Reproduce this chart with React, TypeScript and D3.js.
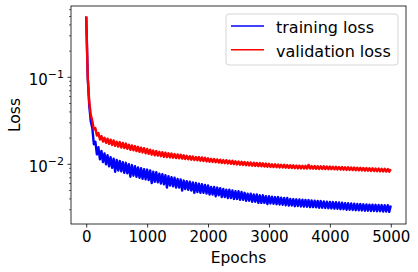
import React, { useEffect, useRef } from 'react';
import * as d3 from 'd3';

// sampled every 25 epochs, 0..5000
const STEP = 25;

const trainingLoss = [
  0.50, 0.098, 0.047, 0.031, 0.0262, 0.0170, 0.0182, 0.0130, 0.0157, 0.0114,
  0.0142, 0.0106, 0.0133, 0.0100, 0.0127, 0.0095, 0.0121, 0.0091, 0.0116, 0.0082,
  0.0112, 0.0085, 0.0109, 0.0083, 0.0106, 0.0080, 0.0104, 0.0079, 0.0100, 0.0072,
  0.0098, 0.0074, 0.0095, 0.0072, 0.0092, 0.0070, 0.0090, 0.0068, 0.0088, 0.0067,
  0.0087, 0.0066, 0.0085, 0.0061, 0.0082, 0.0063, 0.0081, 0.0062, 0.0078, 0.0060,
  0.0077, 0.0059, 0.0075, 0.0054, 0.0073, 0.0057, 0.0071, 0.0056, 0.0070, 0.0054,
  0.0068, 0.0054, 0.0067, 0.0050, 0.0065, 0.0052, 0.0064, 0.0051, 0.0063, 0.0050,
  0.0062, 0.0047, 0.0061, 0.0048, 0.0060, 0.0047, 0.0059, 0.0047, 0.0058, 0.0046,
  0.0057, 0.0045, 0.0055, 0.0045, 0.0055, 0.0043, 0.0054, 0.0044, 0.0053, 0.0042,
  0.0052, 0.0042, 0.0051, 0.0041, 0.0051, 0.0041, 0.0050, 0.0040, 0.0049, 0.0040,
  0.0049, 0.0039, 0.0048, 0.0039, 0.0047, 0.0038, 0.0046, 0.0038, 0.0046, 0.0037,
  0.0045, 0.0037, 0.0045, 0.0036, 0.0044, 0.0036, 0.0044, 0.0036, 0.0043, 0.0035,
  0.0043, 0.00355, 0.00425, 0.00352, 0.0042, 0.00348, 0.0042, 0.00345, 0.00413, 0.00342,
  0.0041, 0.00338, 0.0041, 0.00335, 0.0040, 0.00336, 0.00398, 0.0033, 0.00396, 0.00332,
  0.00394, 0.00328, 0.00392, 0.00326, 0.0039, 0.00325, 0.00388, 0.00322, 0.00384, 0.00322,
  0.00382, 0.0032, 0.0038, 0.00316, 0.00378, 0.00317, 0.00374, 0.00314, 0.00372, 0.00313,
  0.0037, 0.00311, 0.00368, 0.00309, 0.00366, 0.00308, 0.00364, 0.00305, 0.00362, 0.00305,
  0.00358, 0.0030, 0.00357, 0.00301, 0.00355, 0.00299, 0.00352, 0.00297, 0.0035, 0.00296,
  0.00349, 0.00295, 0.00347, 0.00292, 0.00346, 0.00293, 0.00344, 0.0029, 0.00344, 0.00291,
  0.00342, 0.00288, 0.00341, 0.00289, 0.0034, 0.00286, 0.00339, 0.00287, 0.00338, 0.00284,
  0.00336,
];

const validationLoss = [
  0.50, 0.100, 0.052, 0.037, 0.0315, 0.0252, 0.0261, 0.0214, 0.0229, 0.0193,
  0.0211, 0.0183, 0.0202, 0.0177, 0.0197, 0.0172, 0.0192, 0.0167, 0.0188, 0.0163,
  0.0182, 0.0160, 0.0180, 0.0156, 0.0176, 0.0154, 0.0173, 0.0151, 0.0168, 0.0147,
  0.0165, 0.0145, 0.0162, 0.0142, 0.0159, 0.0139, 0.0155, 0.0137, 0.0153, 0.0134,
  0.0150, 0.0132, 0.0147, 0.0129, 0.0144, 0.0127, 0.0142, 0.0126, 0.0139, 0.0124,
  0.0138, 0.0122, 0.0136, 0.0121, 0.0134, 0.0120, 0.0133, 0.0119, 0.0131, 0.0118,
  0.0130, 0.0117, 0.0129, 0.0116, 0.0127, 0.0115, 0.0125, 0.0114, 0.0124, 0.0113,
  0.0123, 0.0112, 0.0121, 0.0111, 0.0121, 0.0110, 0.0120, 0.0109, 0.0119, 0.0108,
  0.0117, 0.01072, 0.01157, 0.01063, 0.01148, 0.01055, 0.01139, 0.01046, 0.0113, 0.01038,
  0.0112, 0.01029, 0.01115, 0.01021, 0.01102, 0.01012, 0.01095, 0.01004, 0.01085, 0.00995,
  0.01077, 0.00988, 0.01068, 0.00982, 0.01063, 0.00976, 0.01056, 0.0097, 0.0105, 0.00965,
  0.01044, 0.00959, 0.01038, 0.00953, 0.01032, 0.00947, 0.01025, 0.00941, 0.01019, 0.00936,
  0.01013, 0.00933, 0.01002, 0.00929, 0.00998, 0.00926, 0.00994, 0.00922, 0.0099, 0.00918,
  0.00986, 0.00914, 0.00981, 0.0091, 0.00977, 0.00906, 0.00973, 0.00903, 0.00969, 0.00899,
  0.00965, 0.00898, 0.00962, 0.00896, 0.0096, 0.00894, 0.00985, 0.00892, 0.00955, 0.0089,
  0.00953, 0.00888, 0.00951, 0.00886, 0.00949, 0.00884, 0.00947, 0.00882, 0.00945, 0.0088,
  0.00943, 0.00878, 0.00939, 0.00875, 0.00936, 0.00872, 0.00933, 0.00869, 0.0093, 0.00866,
  0.00926, 0.00863, 0.00923, 0.0086, 0.0092, 0.00858, 0.00917, 0.00855, 0.00914, 0.00852,
  0.00911, 0.00849, 0.00908, 0.00846, 0.00905, 0.00843, 0.00902, 0.0084, 0.00899, 0.00837,
  0.00895, 0.00834, 0.00892, 0.00831, 0.00889, 0.00828, 0.00886, 0.00826, 0.00883, 0.00823,
  0.0088,
];

const xTicks = [0, 1000, 2000, 3000, 4000, 5000];
const yMajorTicks = [
  { value: 0.1, exp: '\u22121' },
  { value: 0.01, exp: '\u22122' },
];

const seriesList = [
  { name: 'training loss', color: '#0000ff', values: trainingLoss },
  { name: 'validation loss', color: '#ff0000', values: validationLoss },
];

const WIDTH = 418;
const HEIGHT = 272;
const FONT = 'DejaVu Sans, sans-serif';

export default function App() {
  const svgRef = useRef<SVGSVGElement>(null);

  useEffect(() => {
    if (!svgRef.current) return;
    const svg = d3.select(svgRef.current);
    svg.selectAll('*').remove();

    const margin = { top: 6, right: 12, bottom: 48, left: 71 };
    const innerWidth = WIDTH - margin.left - margin.right;
    const innerHeight = HEIGHT - margin.top - margin.bottom;

    const x = d3.scaleLinear().domain([-250, 5250]).range([0, innerWidth]);
    const y = d3.scaleLog().domain([0.00206, 0.66]).range([innerHeight, 0]);

    const g = svg.append('g')
      .attr('transform', `translate(${margin.left},${margin.top})`);

    // noisy loss curves, drawn as dense zigzags
    const line = d3.line<number>()
      .x((_, i) => x(i * STEP))
      .y(d => y(d));

    seriesList.forEach(s => {
      g.append('path')
        .datum(s.values)
        .attr('fill', 'none')
        .attr('stroke', s.color)
        .attr('stroke-width', 2.4)
        .attr('stroke-linejoin', 'round')
        .attr('d', line);
    });

    // x axis
    const xAxis = g.append('g')
      .attr('transform', `translate(0,${innerHeight})`)
      .call(d3.axisBottom(x).tickValues(xTicks).tickSize(3.5).tickPadding(4).tickFormat(d3.format('d')));
    xAxis.select('.domain').remove();
    xAxis.selectAll('line').attr('stroke', '#000').attr('stroke-width', 0.8);
    xAxis.selectAll('text')
      .attr('font-family', FONT)
      .attr('font-size', 15)
      .attr('fill', '#000');

    // y axis: minor ticks
    const [yMin, yMax] = y.domain();
    const minor: number[] = [];
    for (let k = -3; k <= 0; k++) {
      for (let m = 2; m <= 9; m++) {
        const v = m * Math.pow(10, k);
        if (v >= yMin && v <= yMax) minor.push(v);
      }
    }
    g.append('g')
      .selectAll('line')
      .data(minor)
      .enter()
      .append('line')
      .attr('x1', -2)
      .attr('x2', 0)
      .attr('y1', d => y(d))
      .attr('y2', d => y(d))
      .attr('stroke', '#000')
      .attr('stroke-width', 0.6);

    const yt = g.append('g')
      .selectAll('g')
      .data(yMajorTicks)
      .enter()
      .append('g')
      .attr('transform', d => `translate(0,${y(d.value)})`);
    yt.append('line')
      .attr('x1', -3.5)
      .attr('x2', 0)
      .attr('stroke', '#000')
      .attr('stroke-width', 0.8);
    const yLabel = yt.append('text')
      .attr('x', -7)
      .attr('y', 7.5)
      .attr('text-anchor', 'end')
      .attr('font-family', FONT)
      .attr('font-size', 15)
      .attr('fill', '#000');
    yLabel.append('tspan').text('10');
    yLabel.append('tspan')
      .attr('dy', -7)
      .attr('font-size', 11)
      .text(d => d.exp);

    // frame
    g.append('rect')
      .attr('width', innerWidth)
      .attr('height', innerHeight)
      .attr('fill', 'none')
      .attr('stroke', '#000')
      .attr('stroke-width', 0.8);

    // axis titles
    svg.append('text')
      .attr('x', margin.left + innerWidth / 2)
      .attr('y', 263)
      .attr('text-anchor', 'middle')
      .attr('font-family', FONT)
      .attr('font-size', 15.5)
      .text('Epochs');

    svg.append('text')
      .attr('transform', `translate(20,${margin.top + innerHeight / 2}) rotate(-90)`)
      .attr('text-anchor', 'middle')
      .attr('font-family', FONT)
      .attr('font-size', 15.5)
      .text('Loss');

    // legend
    const legend = svg.append('g').attr('transform', 'translate(226,14)');
    legend.append('rect')
      .attr('width', 172)
      .attr('height', 51)
      .attr('rx', 3)
      .attr('fill', 'rgba(255,255,255,0.8)')
      .attr('stroke', '#cccccc')
      .attr('stroke-width', 0.8);
    const items = legend.selectAll('g.item')
      .data(seriesList)
      .enter()
      .append('g')
      .attr('class', 'item')
      .attr('transform', (_, i) => `translate(0,${12 + i * 23.7})`);
    items.append('line')
      .attr('x1', 5)
      .attr('x2', 38)
      .attr('stroke', d => d.color)
      .attr('stroke-width', 1.5);
    items.append('text')
      .attr('x', 50)
      .attr('y', 7.3)
      .attr('font-family', FONT)
      .attr('font-size', 16)
      .attr('fill', '#000')
      .text(d => d.name);
  }, []);

  return (
    <svg
      ref={svgRef}
      width={WIDTH}
      height={HEIGHT}
      style={{ position: 'absolute', left: 0, top: 0, background: '#fff' }}
    />
  );
}
